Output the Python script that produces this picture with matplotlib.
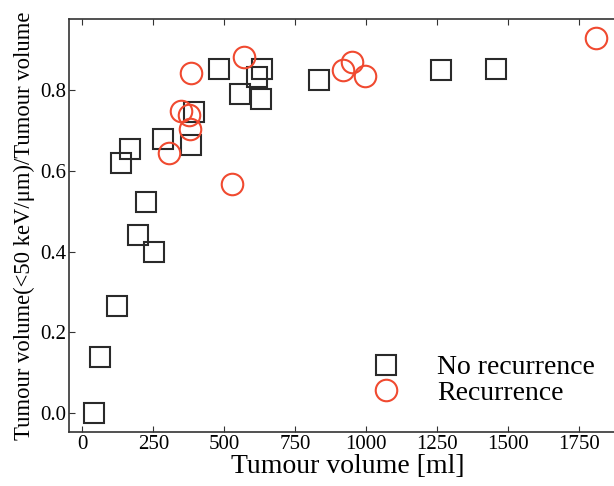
import matplotlib
matplotlib.use("Agg")
import matplotlib.pyplot as plt

plt.rcParams['font.family'] = ['Liberation Serif', 'DejaVu Serif']
plt.rcParams['mathtext.fontset'] = 'stix'

# no recurrence (squares)
no_rec_vol = [42, 62, 121, 137, 169, 196, 225, 251, 283, 382, 393, 481, 555, 616, 628, 633, 833, 1261, 1458]
no_rec_frac = [0.0, 0.139, 0.266, 0.620, 0.655, 0.440, 0.524, 0.398, 0.678, 0.664, 0.745, 0.852, 0.790, 0.831, 0.779, 0.852, 0.824, 0.849, 0.852]

# recurrence (circles)
rec_vol = [305, 348, 377, 378, 383, 526, 570, 919, 949, 995, 1809]
rec_frac = [0.644, 0.748, 0.738, 0.704, 0.843, 0.568, 0.881, 0.850, 0.870, 0.835, 0.928]

xticks = [0, 250, 500, 750, 1000, 1250, 1500, 1750]
yticks = [0.0, 0.2, 0.4, 0.6, 0.8]

fig = plt.figure(figsize=(6.14, 4.86), dpi=100)
# right spine sits just outside the picture, like in the original
ax = fig.add_axes([69.3 / 614, 1 - 432.3 / 486, 556.7 / 614, (432.3 - 19.3) / 486])

ax.plot(no_rec_vol, no_rec_frac, linestyle='none', marker='s', markersize=15,
        markerfacecolor='none', markeredgecolor='#2a2a2a', markeredgewidth=1.5,
        label='No recurrence')
ax.plot(rec_vol, rec_frac, linestyle='none', marker='o', markersize=15.5,
        markerfacecolor='none', markeredgecolor='#f04a30', markeredgewidth=1.5,
        label='Recurrence')

ax.set_xlim(-46, 1914)
ax.set_ylim(-0.047, 0.975)
ax.set_xticks(xticks)
ax.set_yticks(yticks)
ax.set_yticklabels([f'{v:.1f}' for v in yticks])
ax.tick_params(direction='in', top=True, right=True, labelsize=15, length=4,
               pad=2, color='#333333')
for s in ax.spines.values():
    s.set_color('#333333')
    s.set_linewidth(1.2)

ax.set_xlabel('Tumour volume [ml]', fontsize=20, labelpad=0)
ax.set_ylabel('Tumour volume(<50 keV/μm)/Tumour volume', fontsize=16.3, labelpad=4)

ax.legend(loc='lower right', frameon=False, fontsize=20, handletextpad=0.85,
          borderaxespad=0, labelspacing=0.0,
          bbox_to_anchor=((606 - 69.3) / 556.7, 0.037))

fig.savefig('out.png', dpi=100)
